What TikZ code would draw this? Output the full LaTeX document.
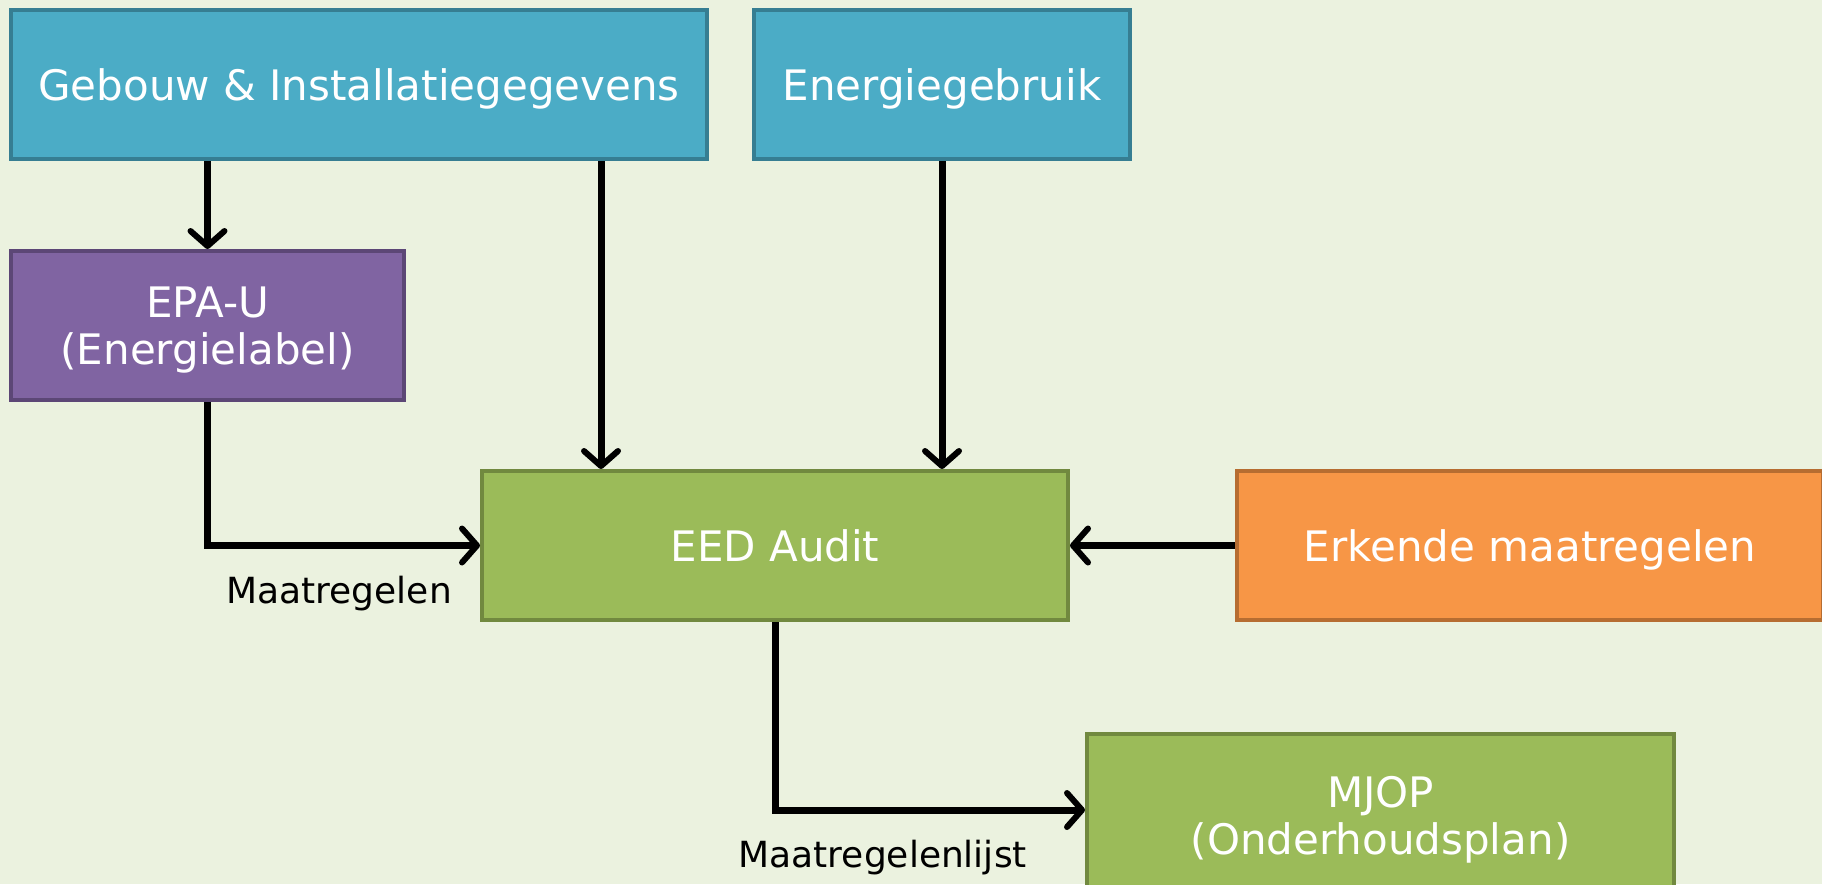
\documentclass[tikz,border=0pt]{standalone}
\usepackage{fontspec}
\setmainfont{DejaVu Sans}
\usetikzlibrary{arrows.meta,positioning}
\definecolor{bgcol}{HTML}{EBF2DF}
\definecolor{bluefill}{HTML}{4BACC6}
\definecolor{blueline}{HTML}{367E92}
\definecolor{purplefill}{HTML}{8064A2}
\definecolor{purpleline}{HTML}{5C4776}
\definecolor{greenfill}{HTML}{9BBB59}
\definecolor{greenline}{HTML}{71893F}
\definecolor{orangefill}{HTML}{F79646}
\definecolor{orangeline}{HTML}{B66D31}
\tikzset{
  box/.style={draw,line width=4pt,minimum height=149pt,inner sep=0pt,text depth=0pt,align=center,text=white,font=\fontsize{42}{47}\selectfont},
  bluebox/.style={box,fill=bluefill,draw=blueline},
  purplebox/.style={box,fill=purplefill,draw=purpleline},
  greenbox/.style={box,fill=greenfill,draw=greenline},
  orangebox/.style={box,fill=orangefill,draw=orangeline},
  flow/.style={line width=7pt,-{Straight Barb[length=15pt,width=34pt,line width=6pt,round]}},
  lbl/.style={inner sep=0pt,font=\fontsize{36}{43}\selectfont}
}
\begin{document}
\begin{tikzpicture}[x=1pt,y=-1pt]
\useasboundingbox (0,0) rectangle (1822,884);
\clip (0,0) rectangle (1822,884);
\fill[bgcol] (0,0) rectangle (1822,884);
\node[bluebox,minimum width=696pt] (gebouw) at (359,84.5) {Gebouw \& Installatiegegevens};
\node[bluebox,minimum width=376pt] (energie) at (942,84.5) {Energiegebruik};
\node[purplebox,minimum width=393pt] (epa) at (207.5,325.5) {EPA-U\\(Energielabel)};
\node[greenbox,minimum width=586pt] (eed) at (775,545.5) {EED Audit};
\node[orangebox,minimum width=586pt] (erkende) at (1530,545.5) {Erkende maatregelen};
\node[greenbox,minimum width=587pt,minimum height=163pt] (mjop) at (1380.5,815) {MJOP\\(Onderhoudsplan)};
\coordinate (gin) at ([xshift=121pt]eed.north west);
\draw[flow] (gebouw.south -| epa.north) -- (epa.north);
\draw[flow] (gebouw.south -| gin) -- (gin);
\draw[flow] (energie.south) -- (energie.south |- eed.north);
\draw[flow] (epa.south) |- (eed.west);
\draw[flow] (erkende.west) -- (eed.east);
\draw[flow] (eed.south) |- ([yshift=5pt]mjop.west);
\node[lbl,anchor=east] (maat) at ([xshift=-28pt,yshift=-48pt]eed.west) {Maatregelen};
\node[lbl,anchor=east] (lijst) at ([xshift=-58pt,yshift=-43pt]mjop.west) {Maatregelenlijst};
\end{tikzpicture}
\end{document}
